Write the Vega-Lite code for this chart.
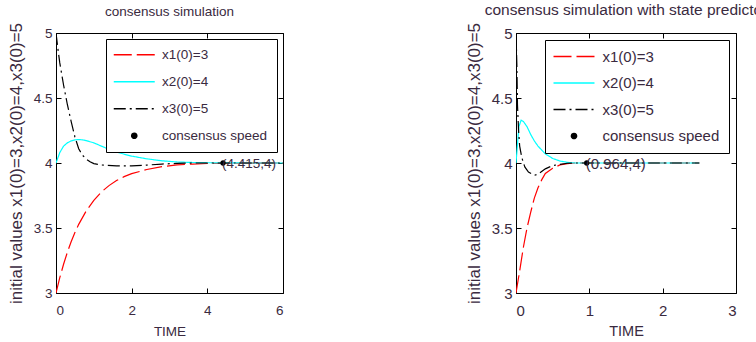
{
  "$schema": "https://vega.github.io/schema/vega-lite/v6.json",
  "padding": {"left": 6, "top": 2, "right": 0, "bottom": 0},
  "spacing": 180,
  "background": "white",
  "config": {
    "font": "Liberation Sans",
    "view": {"stroke": "#000", "strokeWidth": 1},
    "axis": {"domain": false, "grid": false, "tickColor": "#000", "tickSize": -5, "tickWidth": 1, "minExtent": 0, "labelColor": "#3a2a40", "titleColor": "#3a2a40", "titleFontWeight": "normal", "labelFont": "Liberation Sans", "titleFont": "Liberation Sans"},
    "title": {"font": "Liberation Sans", "fontWeight": "normal", "color": "#3a2a40", "offset": 0},
    "legend": {"orient": "top-right", "title": null, "strokeColor": "#000", "fillColor": "#fff", "padding": 9, "rowPadding": 10.5, "symbolType": "M-4,0H4", "symbolSize": 105, "symbolOffset": 12.5, "symbolStrokeWidth": 1.5, "labelColor": "#3a2a40", "labelFont": "Liberation Sans", "labelOffset": 21, "cornerRadius": 0}
  },
  "datasets": {
    "left": [
      {"series": "x1(0)=3", "t": 0, "v": 3}, {"series": "x1(0)=3", "t": 0.1, "v": 3.118}, {"series": "x1(0)=3", "t": 0.2, "v": 3.221}, {"series": "x1(0)=3", "t": 0.3, "v": 3.313}, {"series": "x1(0)=3", "t": 0.4, "v": 3.394}, {"series": "x1(0)=3", "t": 0.5, "v": 3.465}, {"series": "x1(0)=3", "t": 0.6, "v": 3.528}, {"series": "x1(0)=3", "t": 0.8, "v": 3.632}, {"series": "x1(0)=3", "t": 1.0, "v": 3.713}, {"series": "x1(0)=3", "t": 1.2, "v": 3.777}, {"series": "x1(0)=3", "t": 1.4, "v": 3.826}, {"series": "x1(0)=3", "t": 1.6, "v": 3.865}, {"series": "x1(0)=3", "t": 1.8, "v": 3.895}, {"series": "x1(0)=3", "t": 2.0, "v": 3.918}, {"series": "x1(0)=3", "t": 2.4, "v": 3.95}, {"series": "x1(0)=3", "t": 2.8, "v": 3.972}, {"series": "x1(0)=3", "t": 3.2, "v": 3.985}, {"series": "x1(0)=3", "t": 3.6, "v": 3.992}, {"series": "x1(0)=3", "t": 4.0, "v": 3.996}, {"series": "x1(0)=3", "t": 5.0, "v": 3.999}, {"series": "x1(0)=3", "t": 6.0, "v": 4.0},
      {"series": "x2(0)=4", "t": 0, "v": 4}, {"series": "x2(0)=4", "t": 0.1, "v": 4.08}, {"series": "x2(0)=4", "t": 0.2, "v": 4.13}, {"series": "x2(0)=4", "t": 0.3, "v": 4.155}, {"series": "x2(0)=4", "t": 0.4, "v": 4.17}, {"series": "x2(0)=4", "t": 0.5, "v": 4.178}, {"series": "x2(0)=4", "t": 0.6, "v": 4.18}, {"series": "x2(0)=4", "t": 0.7, "v": 4.178}, {"series": "x2(0)=4", "t": 0.8, "v": 4.172}, {"series": "x2(0)=4", "t": 1.0, "v": 4.155}, {"series": "x2(0)=4", "t": 1.2, "v": 4.13}, {"series": "x2(0)=4", "t": 1.4, "v": 4.105}, {"series": "x2(0)=4", "t": 1.6, "v": 4.085}, {"series": "x2(0)=4", "t": 1.8, "v": 4.068}, {"series": "x2(0)=4", "t": 2.0, "v": 4.053}, {"series": "x2(0)=4", "t": 2.4, "v": 4.032}, {"series": "x2(0)=4", "t": 2.8, "v": 4.017}, {"series": "x2(0)=4", "t": 3.2, "v": 4.008}, {"series": "x2(0)=4", "t": 3.6, "v": 4.004}, {"series": "x2(0)=4", "t": 4.0, "v": 4.002}, {"series": "x2(0)=4", "t": 5.0, "v": 4.0}, {"series": "x2(0)=4", "t": 6.0, "v": 4.0},
      {"series": "x3(0)=5", "t": 0, "v": 5}, {"series": "x3(0)=5", "t": 0.05, "v": 4.88}, {"series": "x3(0)=5", "t": 0.1, "v": 4.77}, {"series": "x3(0)=5", "t": 0.2, "v": 4.6}, {"series": "x3(0)=5", "t": 0.3, "v": 4.45}, {"series": "x3(0)=5", "t": 0.4, "v": 4.32}, {"series": "x3(0)=5", "t": 0.5, "v": 4.2}, {"series": "x3(0)=5", "t": 0.6, "v": 4.11}, {"series": "x3(0)=5", "t": 0.7, "v": 4.06}, {"series": "x3(0)=5", "t": 0.8, "v": 4.03}, {"series": "x3(0)=5", "t": 0.9, "v": 4.01}, {"series": "x3(0)=5", "t": 1.0, "v": 3.995}, {"series": "x3(0)=5", "t": 1.2, "v": 3.985}, {"series": "x3(0)=5", "t": 1.6, "v": 3.978}, {"series": "x3(0)=5", "t": 2.0, "v": 3.978}, {"series": "x3(0)=5", "t": 2.4, "v": 3.984}, {"series": "x3(0)=5", "t": 2.8, "v": 3.992}, {"series": "x3(0)=5", "t": 3.2, "v": 3.997}, {"series": "x3(0)=5", "t": 3.6, "v": 4.0}, {"series": "x3(0)=5", "t": 4.5, "v": 4.0}, {"series": "x3(0)=5", "t": 6.0, "v": 4.0}
    ],
    "right": [
      {"series": "x1(0)=3", "t": 0, "v": 3}, {"series": "x1(0)=3", "t": 0.05, "v": 3.17}, {"series": "x1(0)=3", "t": 0.1, "v": 3.35}, {"series": "x1(0)=3", "t": 0.15, "v": 3.5}, {"series": "x1(0)=3", "t": 0.2, "v": 3.62}, {"series": "x1(0)=3", "t": 0.25, "v": 3.73}, {"series": "x1(0)=3", "t": 0.3, "v": 3.81}, {"series": "x1(0)=3", "t": 0.35, "v": 3.87}, {"series": "x1(0)=3", "t": 0.4, "v": 3.92}, {"series": "x1(0)=3", "t": 0.5, "v": 3.96}, {"series": "x1(0)=3", "t": 0.6, "v": 3.985}, {"series": "x1(0)=3", "t": 0.7, "v": 3.995}, {"series": "x1(0)=3", "t": 0.8, "v": 4.0}, {"series": "x1(0)=3", "t": 1.5, "v": 4.0}, {"series": "x1(0)=3", "t": 2.5, "v": 4.0},
      {"series": "x2(0)=4", "t": 0, "v": 4}, {"series": "x2(0)=4", "t": 0.02, "v": 4.14}, {"series": "x2(0)=4", "t": 0.04, "v": 4.28}, {"series": "x2(0)=4", "t": 0.07, "v": 4.33}, {"series": "x2(0)=4", "t": 0.1, "v": 4.32}, {"series": "x2(0)=4", "t": 0.15, "v": 4.28}, {"series": "x2(0)=4", "t": 0.2, "v": 4.22}, {"series": "x2(0)=4", "t": 0.25, "v": 4.17}, {"series": "x2(0)=4", "t": 0.3, "v": 4.13}, {"series": "x2(0)=4", "t": 0.35, "v": 4.1}, {"series": "x2(0)=4", "t": 0.4, "v": 4.07}, {"series": "x2(0)=4", "t": 0.5, "v": 4.035}, {"series": "x2(0)=4", "t": 0.6, "v": 4.015}, {"series": "x2(0)=4", "t": 0.7, "v": 4.005}, {"series": "x2(0)=4", "t": 0.8, "v": 4.0}, {"series": "x2(0)=4", "t": 1.5, "v": 4.0}, {"series": "x2(0)=4", "t": 2.5, "v": 4.0},
      {"series": "x3(0)=5", "t": 0, "v": 5}, {"series": "x3(0)=5", "t": 0.012, "v": 4.75}, {"series": "x3(0)=5", "t": 0.02, "v": 4.45}, {"series": "x3(0)=5", "t": 0.035, "v": 4.25}, {"series": "x3(0)=5", "t": 0.05, "v": 4.13}, {"series": "x3(0)=5", "t": 0.08, "v": 4.04}, {"series": "x3(0)=5", "t": 0.12, "v": 3.97}, {"series": "x3(0)=5", "t": 0.17, "v": 3.93}, {"series": "x3(0)=5", "t": 0.25, "v": 3.905}, {"series": "x3(0)=5", "t": 0.3, "v": 3.915}, {"series": "x3(0)=5", "t": 0.35, "v": 3.935}, {"series": "x3(0)=5", "t": 0.4, "v": 3.955}, {"series": "x3(0)=5", "t": 0.5, "v": 3.98}, {"series": "x3(0)=5", "t": 0.6, "v": 3.99}, {"series": "x3(0)=5", "t": 0.7, "v": 3.998}, {"series": "x3(0)=5", "t": 0.8, "v": 4.0}, {"series": "x3(0)=5", "t": 1.5, "v": 4.0}, {"series": "x3(0)=5", "t": 2.5, "v": 4.0}
    ],
    "leftPt": [{"series": "consensus speed", "t": 4.415, "v": 4, "label": "(4.415,4)"}],
    "rightPt": [{"series": "consensus speed", "t": 0.964, "v": 4, "label": "(0.964,4)"}]
  },
  "hconcat": [
    {
      "width": 227, "height": 260,
      "title": {"text": "consensus simulation", "fontSize": 13.5},
      "layer": [
        {
          "data": {"name": "left"},
          "mark": {"type": "line", "strokeWidth": 1.2, "clip": true},
          "encoding": {
            "x": {"field": "t", "type": "quantitative", "scale": {"domain": [0, 6], "nice": false}, "axis": {"values": [0, 2, 4, 6], "title": "TIME", "labelFontSize": 13.5, "titleFontSize": 13.5, "labelPadding": 15, "titlePadding": 8}},
            "y": {"field": "v", "type": "quantitative", "scale": {"domain": [3, 5], "nice": false, "zero": false}, "axis": {"values": [3, 3.5, 4, 4.5, 5], "format": "~g", "title": "initial values x1(0)=3,x2(0)=4,x3(0)=5", "labelFontSize": 13.5, "titleFontSize": 17, "labelPadding": 9, "titlePadding": 8}},
            "color": {"field": "series", "type": "nominal", "scale": {"domain": ["x1(0)=3", "x2(0)=4", "x3(0)=5", "consensus speed"], "range": ["#ff0000", "#00ffff", "#000000", "#000000"]}, "legend": {"offset": 6, "labelFontSize": 13.5, "rowPadding": 12, "encode": {"symbols": {"update": {"shape": {"signal": "datum.value === 'consensus speed' ? 'M-0.5,0A0.5,0.5,0,1,1,0.5,0A0.5,0.5,0,1,1,-0.5,0Z' : 'M-4,0H4'"}, "fill": {"signal": "datum.value === 'consensus speed' ? '#000' : 'transparent'"}}}}}},
            "strokeDash": {"field": "series", "type": "nominal", "scale": {"domain": ["x1(0)=3", "x2(0)=4", "x3(0)=5", "consensus speed"], "range": [[18, 5], [1, 0], [12, 4, 2, 4], [1, 0]]}, "legend": {"offset": 6, "labelFontSize": 13.5, "rowPadding": 12}}
          }
        },
        {
          "data": {"name": "leftPt"},
          "mark": {"type": "point", "filled": true, "size": 28, "opacity": 1, "color": "#000"},
          "encoding": {
            "x": {"field": "t", "type": "quantitative", "axis": {"orient": "top", "values": [0, 2, 4, 6], "labels": false, "title": null}},
            "y": {"field": "v", "type": "quantitative", "axis": {"orient": "right", "values": [3, 3.5, 4, 4.5, 5], "labels": false, "title": null}}
          }
        },
        {
          "data": {"name": "leftPt"},
          "mark": {"type": "text", "align": "left", "baseline": "middle", "dx": -1, "dy": 1, "fontSize": 13.5, "color": "#3a2a40"},
          "encoding": {
            "x": {"field": "t", "type": "quantitative", "axis": null},
            "y": {"field": "v", "type": "quantitative", "axis": null},
            "text": {"field": "label"}
          }
        }
      ],
      "resolve": {"axis": {"x": "independent", "y": "independent"}}
    },
    {
      "width": 220, "height": 260,
      "title": {"text": "consensus simulation with state predictor", "fontSize": 15.5},
      "layer": [
        {
          "data": {"name": "right"},
          "mark": {"type": "line", "strokeWidth": 1.2, "clip": true},
          "encoding": {
            "x": {"field": "t", "type": "quantitative", "scale": {"domain": [0, 3], "nice": false}, "axis": {"values": [0, 1, 2, 3], "title": "TIME", "labelFontSize": 15, "titleFontSize": 14.5, "labelPadding": 15, "titlePadding": 6}},
            "y": {"field": "v", "type": "quantitative", "scale": {"domain": [3, 5], "nice": false, "zero": false}, "axis": {"values": [3, 3.5, 4, 4.5, 5], "format": "~g", "title": "initial values x1(0)=3,x2(0)=4,x3(0)=5", "labelFontSize": 15, "titleFontSize": 17, "labelPadding": 9, "titlePadding": 8}},
            "color": {"field": "series", "type": "nominal", "scale": {"domain": ["x1(0)=3", "x2(0)=4", "x3(0)=5", "consensus speed"], "range": ["#ff0000", "#00ffff", "#000000", "#000000"]}, "legend": {"offset": 7, "labelFontSize": 15, "encode": {"symbols": {"update": {"shape": {"signal": "datum.value === 'consensus speed' ? 'M-0.5,0A0.5,0.5,0,1,1,0.5,0A0.5,0.5,0,1,1,-0.5,0Z' : 'M-4,0H4'"}, "fill": {"signal": "datum.value === 'consensus speed' ? '#000' : 'transparent'"}}}}}},
            "strokeDash": {"field": "series", "type": "nominal", "scale": {"domain": ["x1(0)=3", "x2(0)=4", "x3(0)=5", "consensus speed"], "range": [[18, 5], [1, 0], [12, 4, 2, 4], [1, 0]]}, "legend": {"offset": 7, "labelFontSize": 15}}
          }
        },
        {
          "data": {"name": "rightPt"},
          "mark": {"type": "point", "filled": true, "size": 28, "opacity": 1, "color": "#000"},
          "encoding": {
            "x": {"field": "t", "type": "quantitative", "axis": {"orient": "top", "values": [0, 1, 2, 3], "labels": false, "title": null}},
            "y": {"field": "v", "type": "quantitative", "axis": {"orient": "right", "values": [3, 3.5, 4, 4.5, 5], "labels": false, "title": null}}
          }
        },
        {
          "data": {"name": "rightPt"},
          "mark": {"type": "text", "align": "left", "baseline": "middle", "dx": -1, "dy": 1, "fontSize": 15, "color": "#3a2a40"},
          "encoding": {
            "x": {"field": "t", "type": "quantitative", "axis": null},
            "y": {"field": "v", "type": "quantitative", "axis": null},
            "text": {"field": "label"}
          }
        }
      ],
      "resolve": {"axis": {"x": "independent", "y": "independent"}}
    }
  ],
  "resolve": {"scale": {"color": "independent", "strokeDash": "independent"}, "legend": {"color": "independent", "strokeDash": "independent"}}
}
